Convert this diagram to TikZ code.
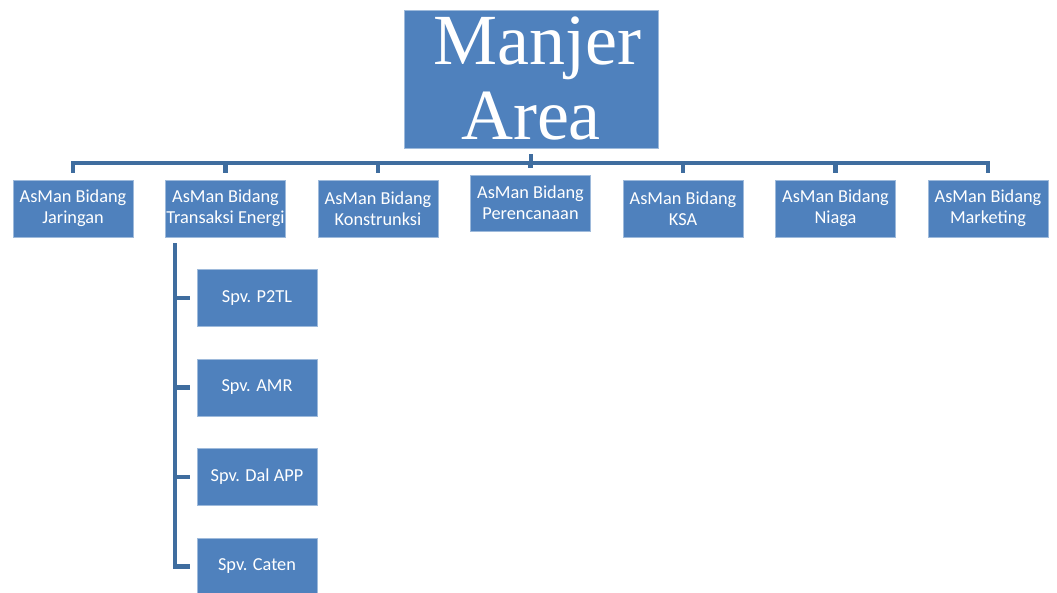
\documentclass[tikz,border=0pt]{standalone}
\usepackage{fontspec}
\usepackage{tikz}
\usetikzlibrary{positioning}
\setmainfont{Carlito}
\newfontfamily\titlefont{Liberation Serif}
\definecolor{boxblue}{HTML}{4F81BD}
\definecolor{lineblue}{HTML}{3F6D9F}

\begin{document}
\begin{tikzpicture}[node distance=152.5pt,
        box/.style={draw=boxblue!55!white, line width=0.8pt, fill=boxblue, text=white, minimum width=120pt, minimum height=57pt, inner sep=1pt, align=center, font=\fontsize{18.3}{21}\selectfont},
        link/.style={draw=lineblue, line width=4.5pt}]
        \useasboundingbox (0,0) rectangle (1057pt,-593pt);

        % Manajer
        \node [box, minimum width=254pt, minimum height=138pt, font=\titlefont\fontsize{72}{75}\selectfont] (mgr) at (531pt,-79pt) {\hspace*{12pt}Manjer\\Area};

        % AsMan row
        \node [box] (jaringan) at (73pt,-208.5pt) {AsMan Bidang\\Jaringan};
        \node [box, right of=jaringan] (transaksi) {AsMan Bidang\\Transaksi Energi};
        \node [box, right of=transaksi] (konstruksi) {AsMan Bidang\\Konstrunksi};
        \node [box, right of=konstruksi, yshift=5.5pt, minimum height=56pt] (rencana) {AsMan Bidang\\Perencanaan};
        \node [box, right of=rencana, yshift=-5.5pt] (ksa) {AsMan Bidang\\KSA};
        \node [box, right of=ksa] (niaga) {AsMan Bidang\\Niaga};
        \node [box, right of=niaga] (marketing) {AsMan Bidang\\Marketing};

        % Spv under Transaksi Energi
        \node [box, below of=transaksi, node distance=89.5pt, xshift=31.5pt] (p2tl) {Spv. P2TL};
        \node [box, below of=p2tl, node distance=89.5pt] (amr) {Spv. AMR};
        \node [box, below of=amr, node distance=89.5pt] (dalapp) {Spv. Dal APP};
        \node [box, below of=dalapp, node distance=89.5pt] (caten) {Spv. Caten};

        % bus lines
        \coordinate (bus) at (0,-163pt);
        \draw [link, shorten <=6pt] (mgr.south) -- (mgr.south |- bus);
        \draw [link, shorten <=7pt, shorten >=7pt] (jaringan.north) -- (jaringan.north |- bus) -- (marketing.north |- bus) -- (marketing.north);
        \foreach \n in {transaksi,konstruksi,rencana,ksa,niaga}
            \draw [link, shorten >=7pt] (\n.north |- bus) -- (\n.north);

        % spine for Spv
        \coordinate (spine) at ([xshift=10pt, yshift=-6pt]transaksi.south west);
        \draw [link, shorten >=7pt] (spine) |- (caten.west);
        \foreach \n in {p2tl,amr,dalapp}
            \draw [link, shorten >=7pt] (spine |- \n.west) -- (\n.west);
    \end{tikzpicture}
\end{document}
